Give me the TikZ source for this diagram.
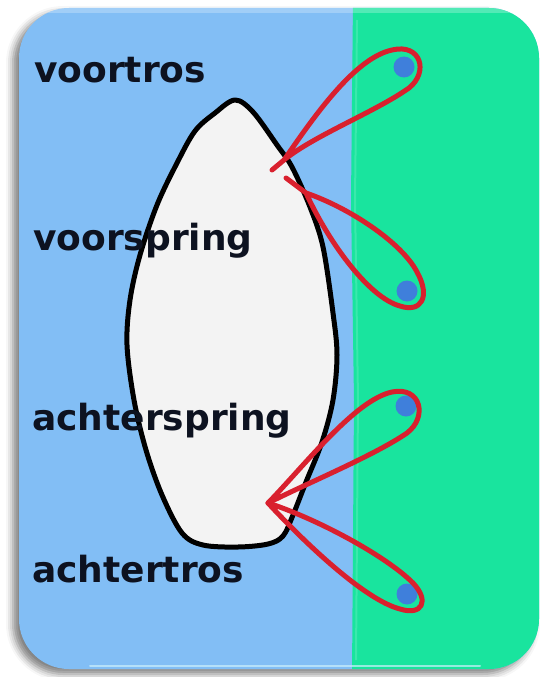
\documentclass[tikz,border=0pt]{standalone}
\usepackage{fontspec}
\setmainfont{DejaVu Sans}
\usetikzlibrary{shadows.blur}

\definecolor{water}{HTML}{82BEF5}
\definecolor{quay}{HTML}{19E49E}
\definecolor{hull}{HTML}{F3F3F3}
\definecolor{rope}{HTML}{D9202E}
\definecolor{bollardblue}{HTML}{3F7FDB}
\definecolor{ink}{HTML}{0D1220}

\tikzset{
  frameshape/.style={rounded corners=50pt},
  hullline/.style={draw=black, line width=5pt, fill=hull, line join=round},
  lbl/.style={anchor=base west, inner sep=0pt, text=ink,
              font=\fontsize{36}{40}\selectfont\bfseries},
  bollard/.style={circle, fill=bollardblue, minimum size=21pt, inner sep=0pt},
  mooring/.style={draw=rope, line width=5pt, line cap=round, line join=round},
}

\begin{document}
\begin{tikzpicture}[x=1pt,y=-1pt]
\useasboundingbox (0,0) rectangle (539,677);

% water panel with its drop shadow
\path[frameshape, fill=water,
      blur shadow={shadow xshift=-6pt, shadow yshift=-5pt,
                   shadow blur radius=7pt, shadow opacity=50}]
  (19,8) rectangle (539,669);

% quay on the right
\begin{scope}
  \clip[frameshape] (19,8) rectangle (539,669);
  \fill[quay] (353,0) -- (351,200) -- (354,400) -- (352,677)
              -- (539,677) -- (539,0) -- cycle;
  \draw[white, opacity=0.15, line width=2pt]
    (357,20) -- (355,200) -- (358,400) -- (356,660);
  % soft highlights on the panel rim
  \fill[white, opacity=0.25] (19,8) rectangle (539,13);
  \draw[cyan!20, opacity=0.7, line width=2pt, line cap=round] (90,666) -- (480,666);
\end{scope}

% hull of the boat
\path[hullline] plot[smooth cycle, tension=0.55] coordinates {
  (235,100) (253,112) (277,145) (292,167) (310,207) (323,247)
  (333,313) (337,355) (333,400) (322,442) (306,482) (293,515)
  (283,536) (268,544) (238,547) (203,545) (182,533) (162,495)
  (146,450) (134,400) (127,345) (130,300) (140,255) (157,205)
  (177,163) (195,131) (215,113)
};

% labels
\node[lbl] (voortros)     at (34,82)  {voortros};
\node[lbl] (voorspring)   at (33,250) {voorspring};
\node[lbl] (achterspring) at (32,430) {achterspring};
\node[lbl] (achtertros)   at (32,582) {achtertros};

% bollards on the quay
\node[bollard] (bolA) at (404,67)  {};
\node[bollard] (bolB) at (407,291) {};
\node[bollard] (bolC) at (406,406) {};
\node[bollard] (bolD) at (407,594) {};

% cleats on the boat
\coordinate (bowcleat)   at (284,160);
\coordinate (bowcleatB)  at (306,193);
\coordinate (sterncleat) at (268,503);

% mooring lines, each looped over its bollard
\draw[mooring] (272,170) -- (bowcleat)
  .. controls (315,115) and (355,58) .. (392,50)
  .. controls (421,43) and (429,72) .. (409,88)
  .. controls (375,112) and (315,135) .. (bowcleat);

\draw[mooring] (286,178) -- (bowcleatB)
  .. controls (350,208) and (402,243) .. (417,272)
  .. controls (431,297) and (421,313) .. (400,306)
  .. controls (370,298) and (330,245) .. (bowcleatB);

\draw[mooring] (sterncleat)
  .. controls (305,465) and (355,400) .. (392,392)
  .. controls (421,386) and (428,417) .. (407,433)
  .. controls (375,455) and (310,482) .. (sterncleat);

\draw[mooring] (sterncleat)
  .. controls (315,518) and (385,555) .. (413,583)
  .. controls (430,601) and (422,616) .. (400,609)
  .. controls (365,600) and (305,543) .. (sterncleat);
\end{tikzpicture}
\end{document}
